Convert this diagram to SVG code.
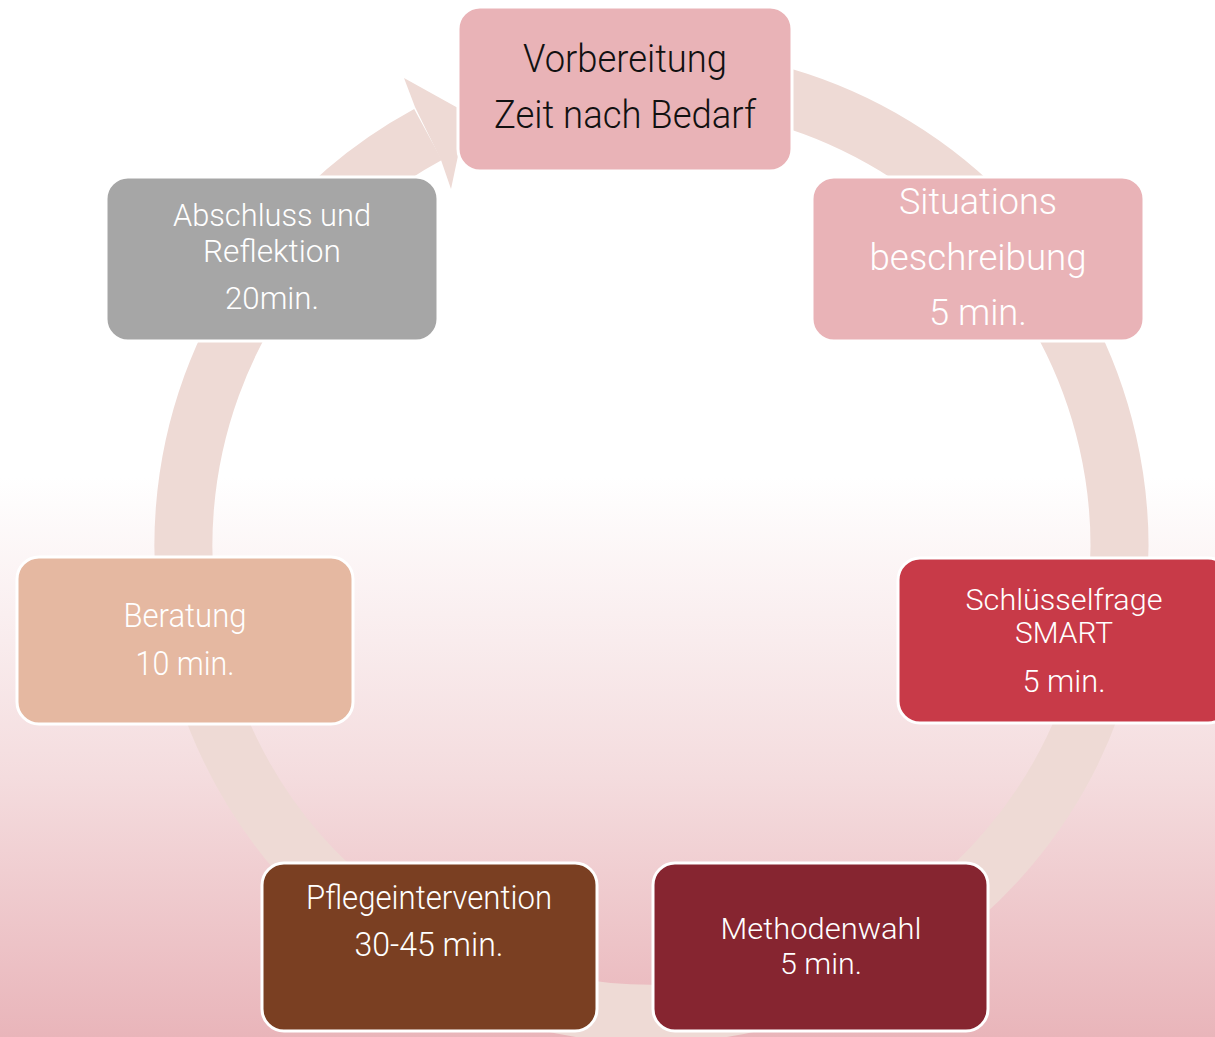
<svg xmlns="http://www.w3.org/2000/svg" width="1215" height="1037" viewBox="0 0 1215 1037">
<defs>
<linearGradient id="bg" x1="0" y1="0" x2="0" y2="1037" gradientUnits="userSpaceOnUse">
<stop offset="0" stop-color="#ffffff"/>
<stop offset="0.46" stop-color="#ffffff"/>
<stop offset="0.75" stop-color="#f4dcde"/>
<stop offset="1" stop-color="#e9b5ba"/>
</linearGradient>
<style>
.node{stroke:#ffffff;stroke-width:3}
.t{font-family:Roboto,"Liberation Sans",sans-serif;font-weight:300;text-anchor:middle;fill:#ffffff}
.dark{fill:#111111}
.ring{fill:none;stroke:#eedad5;stroke-width:58}
</style>
</defs>
<rect x="0" y="0" width="1215" height="1037" fill="url(#bg)"/>
<g id="connectors">
<path class="ring" d="M568.73 85.11 A468 468 0 1 1 428.0 134.5"/>
<polygon points="404,78 467,113 451,189 441,160 415,107" fill="#eedad5"/>
</g>
<g id="n1">
<rect class="node" x="458" y="7" width="334" height="164" rx="22" fill="#e9b3b7"/>
<text class="t dark" x="625" y="72" font-size="38" textLength="204" lengthAdjust="spacingAndGlyphs">Vorbereitung</text>
<text class="t dark" x="625" y="128" font-size="38" textLength="262" lengthAdjust="spacingAndGlyphs">Zeit nach Bedarf</text>
</g>
<g id="n2">
<rect class="node" x="812" y="177" width="332" height="164" rx="22" fill="#e9b3b7"/>
<text class="t" x="978" y="214" font-size="36" textLength="158" lengthAdjust="spacingAndGlyphs">Situations</text>
<text class="t" x="978" y="270" font-size="36" textLength="217" lengthAdjust="spacingAndGlyphs">beschreibung</text>
<text class="t" x="978" y="325" font-size="36" textLength="98" lengthAdjust="spacingAndGlyphs">5 min.</text>
</g>
<g id="n3">
<rect class="node" x="898" y="558" width="332" height="165" rx="22" fill="#c83a48"/>
<text class="t" x="1064" y="610" font-size="29" textLength="197" lengthAdjust="spacingAndGlyphs">Schlüsselfrage</text>
<text class="t" x="1064" y="643" font-size="29" textLength="98" lengthAdjust="spacingAndGlyphs">SMART</text>
<text class="t" x="1064" y="692" font-size="32" textLength="83" lengthAdjust="spacingAndGlyphs">5 min.</text>
</g>
<g id="n4">
<rect class="node" x="17" y="557" width="336" height="167" rx="22" fill="#e5b8a1"/>
<text class="t" x="185" y="627" font-size="33" textLength="123" lengthAdjust="spacingAndGlyphs">Beratung</text>
<text class="t" x="185" y="675" font-size="33" textLength="99" lengthAdjust="spacingAndGlyphs">10 min.</text>
</g>
<g id="n5">
<rect class="node" x="262" y="863" width="335" height="168" rx="22" fill="#7a3f22"/>
<text class="t" x="429" y="909" font-size="33" textLength="246" lengthAdjust="spacingAndGlyphs">Pflegeintervention</text>
<text class="t" x="429" y="956" font-size="33" textLength="149" lengthAdjust="spacingAndGlyphs">30-45 min.</text>
</g>
<g id="n6">
<rect class="node" x="653" y="863" width="335" height="168" rx="22" fill="#862530"/>
<text class="t" x="821" y="939" font-size="30" textLength="201" lengthAdjust="spacingAndGlyphs">Methodenwahl</text>
<text class="t" x="821" y="974" font-size="30" textLength="82" lengthAdjust="spacingAndGlyphs">5 min.</text>
</g>
<g id="n7">
<rect class="node" x="106" y="177" width="332" height="164" rx="22" fill="#a6a6a6"/>
<text class="t" x="272" y="226" font-size="31" textLength="198" lengthAdjust="spacingAndGlyphs">Abschluss und</text>
<text class="t" x="272" y="262" font-size="31" textLength="138" lengthAdjust="spacingAndGlyphs">Reflektion</text>
<text class="t" x="272" y="309" font-size="32" textLength="94" lengthAdjust="spacingAndGlyphs">20min.</text>
</g>
</svg>
